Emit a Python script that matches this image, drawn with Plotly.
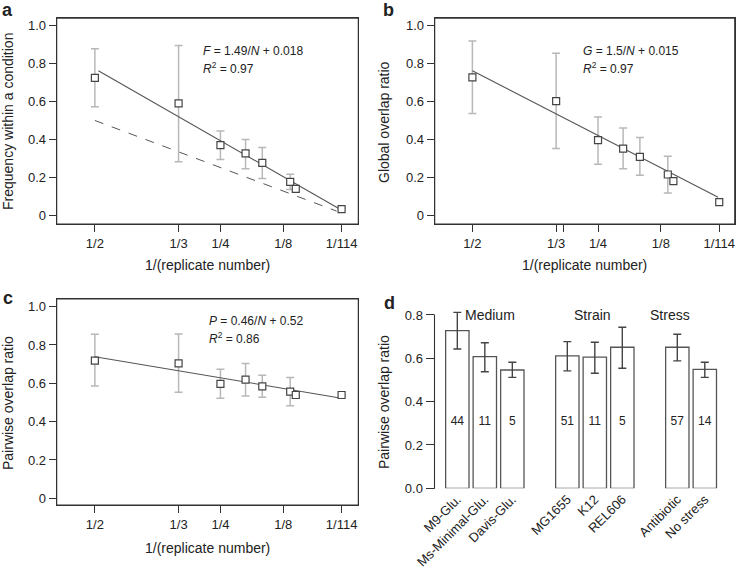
import plotly.graph_objects as go

W, H = 737, 573
FONT = "Liberation Sans, Arial, sans-serif"
TXT = "#222222"
LINE = "#333333"

# ---------------- data ----------------
replicates = [2, 3, 4, 5, 6, 9, 10, 114]
xtick_labels = ["1/2", "1/3", "1/4", "1/8", "1/114"]
xtick_N = [2, 3, 4, 8, 114]
ytick_vals = [0, 0.2, 0.4, 0.6, 0.8, 1.0]
ytick_text = ["0", "0.2", "0.4", "0.6", "0.8", "1.0"]

freq_mean = [0.725, 0.59, 0.37, 0.326, 0.276, 0.176, 0.139, 0.032]
freq_hi = [0.878, 0.895, 0.445, 0.400, 0.357, 0.216, None, None]
freq_lo = [0.572, 0.282, 0.294, 0.246, 0.194, 0.136, None, None]
freq_fit_x = [0.493, 0.0153]
freq_fit_y = [0.762, 0.037]
freq_rand_x = [0.5, 0.0186]
freq_rand_y = [0.50, 0.022]

glob_mean = [0.727, 0.602, 0.396, 0.352, 0.308, 0.215, 0.180, 0.069]
glob_hi = [0.919, 0.854, 0.519, 0.461, 0.410, 0.312, None, None]
glob_lo = [0.537, 0.352, 0.269, 0.246, 0.211, 0.118, None, None]
glob_fit_x = [0.5, 0.011]
glob_fit_y = [0.762, 0.095]

pair_mean = [0.718, 0.704, 0.597, 0.619, 0.584, 0.557, 0.539, 0.539]
pair_hi = [0.856, 0.857, 0.673, 0.704, 0.642, 0.631, None, None]
pair_lo = [0.586, 0.553, 0.522, 0.534, 0.527, 0.483, None, None]
pair_fit_x = [0.5, 0.015]
pair_fit_y = [0.739, 0.525]

bar_labels = ["M9-Glu.", "Ms-Minimal-Glu.", "Davis-Glu.", "MG1655", "K12", "REL606", "Antibiotic", "No stress"]
bar_pos = [0, 1, 2, 4, 5, 6, 8, 9]
bar_vals = [0.728, 0.608, 0.546, 0.611, 0.605, 0.651, 0.651, 0.549]
bar_hi = [0.812, 0.672, 0.582, 0.677, 0.674, 0.743, 0.711, 0.582]
bar_lo = [0.643, 0.538, 0.512, 0.542, 0.531, 0.554, 0.588, 0.512]
bar_counts = ["44", "11", "5", "51", "11", "5", "57", "14"]
group_names = ["Medium", "Strain", "Stress"]
group_x = [1.2, 4.9, 7.75]

XR_A = [0.576, -0.0245]
XR_B = [0.575, -0.022]
YR_TOP = [-0.046, 1.039]
YR_C = [-0.035, 1.04]
XR_D = [-0.83, 9.6]
YR_D = [0, 0.9]
D_AXIS_TOP = 0.8

# panel boxes in pixels: (left, right, top, bottom)
BOX_A = (56.7, 358.3, 18.3, 224.0)
BOX_B = (434.7, 734.7, 18.3, 224.0)
BOX_C = (56.7, 358.3, 299.0, 505.0)
BOX_D = (434.5, 721.3, 293.3, 488.3)


def dom_x(box):
    return [box[0] / W, box[1] / W]


def dom_y(box):
    return [1 - box[3] / H, 1 - box[2] / H]


fig = go.Figure()
xs = [1 / n for n in replicates]


def scatter_panel(k, mean, hi, lo, fit_x, fit_y):
    xa, ya = ("x" if k == 1 else f"x{k}"), ("y" if k == 1 else f"y{k}")
    idx = [i for i in range(len(mean)) if hi[i] is not None]
    fig.add_trace(go.Scatter(
        x=[xs[i] for i in idx], y=[mean[i] for i in idx], mode="markers",
        marker=dict(size=1, color="rgba(0,0,0,0)"),
        error_y=dict(type="data", symmetric=False,
                     array=[hi[i] - mean[i] for i in idx],
                     arrayminus=[mean[i] - lo[i] for i in idx],
                     color="#b8b8b8", thickness=1.5, width=4),
        xaxis=xa, yaxis=ya, showlegend=False, hoverinfo="skip"))
    fig.add_trace(go.Scatter(x=fit_x, y=fit_y, mode="lines",
                             line=dict(color="#555555", width=1.1),
                             xaxis=xa, yaxis=ya, showlegend=False))
    fig.add_trace(go.Scatter(x=xs, y=mean, mode="markers",
                             marker=dict(symbol="square", size=7, color="white",
                                         line=dict(color="#444444", width=1.2)),
                             xaxis=xa, yaxis=ya, showlegend=False))


fig.add_trace(go.Scatter(x=freq_rand_x, y=freq_rand_y, mode="lines",
                         line=dict(color="#555555", width=1, dash="dash"),
                         xaxis="x", yaxis="y", showlegend=False))
scatter_panel(1, freq_mean, freq_hi, freq_lo, freq_fit_x, freq_fit_y)
scatter_panel(2, glob_mean, glob_hi, glob_lo, glob_fit_x, glob_fit_y)
scatter_panel(3, pair_mean, pair_hi, pair_lo, pair_fit_x, pair_fit_y)

fig.add_trace(go.Bar(
    x=bar_pos, y=bar_vals, width=0.85,
    marker=dict(color="white", line=dict(color="#555555", width=1.3)),
    error_y=dict(type="data", symmetric=False,
                 array=[h - v for h, v in zip(bar_hi, bar_vals)],
                 arrayminus=[v - l for v, l in zip(bar_vals, bar_lo)],
                 color="#444444", thickness=1.4, width=4),
    xaxis="x4", yaxis="y4", showlegend=False))
fig.add_trace(go.Scatter(
    x=bar_pos, y=[0.305] * len(bar_pos), mode="text", text=bar_counts,
    textfont=dict(size=12, color=TXT, family=FONT),
    xaxis="x4", yaxis="y4", showlegend=False, hoverinfo="skip"))

tick_common = dict(ticks="outside", ticklen=7, tickwidth=1, tickcolor=LINE,
                   showline=True, mirror=True, linecolor=LINE, linewidth=1,
                   showgrid=False, zeroline=False, automargin=False,
                   tickfont=dict(size=13, color=TXT, family=FONT))

xt_vals = [1 / n for n in xtick_N]
xa_ticks = dict(tickmode="array", tickvals=xt_vals, ticktext=xtick_labels)
xb_ticks = dict(tickmode="array", tickvals=xt_vals + [0.319], ticktext=xtick_labels + [" "])
ya_ticks = dict(tickmode="array", tickvals=ytick_vals, ticktext=ytick_text)

fig.update_layout(
    width=W, height=H, autosize=False, margin=dict(l=0, r=0, t=0, b=0, pad=0),
    paper_bgcolor="white", plot_bgcolor="white",
    showlegend=False,
    font=dict(family=FONT, color=TXT),
    xaxis=dict(domain=dom_x(BOX_A), range=XR_A, anchor="y", **xa_ticks, **tick_common),
    yaxis=dict(domain=dom_y(BOX_A), range=YR_TOP, anchor="x", **ya_ticks, **tick_common),
    xaxis2=dict(domain=dom_x(BOX_B), range=XR_B, anchor="y2", **xb_ticks, **tick_common),
    yaxis2=dict(domain=dom_y(BOX_B), range=YR_TOP, anchor="x2", **ya_ticks, **tick_common),
    xaxis3=dict(domain=dom_x(BOX_C), range=XR_A, anchor="y3", **xa_ticks, **tick_common),
    yaxis3=dict(domain=dom_y(BOX_C), range=YR_C, anchor="x3", **ya_ticks, **tick_common),
    xaxis4=dict(domain=dom_x(BOX_D), range=XR_D, anchor="y4", automargin=False,
                tickmode="array", tickvals=bar_pos, ticktext=bar_labels, tickangle=-45,
                ticks="", showline=False, showgrid=False, zeroline=False,
                tickfont=dict(size=13, color=TXT, family=FONT)),
    yaxis4=dict(domain=dom_y(BOX_D), range=YR_D, anchor="x4", automargin=False,
                tickmode="array", tickvals=[0, 0.2, 0.4, 0.6, 0.8],
                ticktext=["0.0", "0.2", "0.4", "0.6", "0.8"],
                ticks="outside", ticklen=8, tickwidth=1, tickcolor=LINE,
                showline=False, showgrid=False, zeroline=False,
                tickfont=dict(size=13, color=TXT, family=FONT)),
)

# frames drawn as thin filled bands (fill, not stroke), in paper coordinates
T = 1.1  # band thickness, px


def band(x0, x1, y0, y1):
    fig.add_shape(type="rect", xref="paper", yref="paper",
                  x0=x0 / W, x1=x1 / W, y0=1 - y1 / H, y1=1 - y0 / H,
                  fillcolor=LINE, line=dict(width=0), layer="above")


for (l, r, t, b) in [BOX_A, BOX_B, BOX_C]:
    band(l - T / 2, r + T / 2, t - T / 2, t + T / 2)
    band(l - T / 2, r + T / 2, b - T / 2, b + T / 2)
    band(l - T / 2, l + T / 2, t - T / 2, b + T / 2)
    band(r - T / 2, r + T / 2, t - T / 2, b + T / 2)

# panel d y-axis line from 0 to 0.8
d_top_px = BOX_D[3] - (D_AXIS_TOP - YR_D[0]) / (YR_D[1] - YR_D[0]) * (BOX_D[3] - BOX_D[2])
band(BOX_D[0] - T / 2, BOX_D[0] + T / 2, d_top_px - T / 2, BOX_D[3] + T / 2)

ann = []


def A(x, y, text, size=14, xanchor="center", yanchor="middle", angle=0):
    ann.append(dict(x=x / W, y=1 - y / H, xref="paper", yref="paper", text=text,
                    showarrow=False, xanchor=xanchor, yanchor=yanchor, textangle=angle,
                    font=dict(size=size, color=TXT, family=FONT)))


A(8, 10, "<b>a</b>", size=18)
A(388, 10, "<b>b</b>", size=18)
A(8, 298, "<b>c</b>", size=18)
A(389, 303, "<b>d</b>", size=18)

A(207.5, 265, "1/(replicate number)")
A(584.7, 265, "1/(replicate number)")
A(207.5, 548, "1/(replicate number)")
A(8, 122, "Frequency within a condition", angle=-90)
A(384, 122, "Global overlap ratio", angle=-90)
A(8, 403, "Pairwise overlap ratio", angle=-90)
A(384, 402, "Pairwise overlap ratio", angle=-90)

A(201.5, 50.7, "<i>F</i> = 1.49/<i>N</i> + 0.018", size=12, xanchor="left")
A(201.5, 67.7, "<i>R</i><sup>2</sup> = 0.97", size=12, xanchor="left")
A(581.3, 50.7, "<i>G</i> = 1.5/<i>N</i> + 0.015", size=12, xanchor="left")
A(581.3, 67.7, "<i>R</i><sup>2</sup> = 0.97", size=12, xanchor="left")
A(206.5, 321, "<i>P</i> = 0.46/<i>N</i> + 0.52", size=12, xanchor="left")
A(206.5, 338.3, "<i>R</i><sup>2</sup> = 0.86", size=12, xanchor="left")

layout_ann = list(ann)
for name, gx in zip(group_names, group_x):
    layout_ann.append(dict(x=gx, y=0.8, xref="x4", yref="y4", text=name, showarrow=False,
                           xanchor="center", yanchor="middle",
                           font=dict(size=14, color=TXT, family=FONT)))
fig.update_layout(annotations=layout_ann)

fig.write_html("out.html", config={"responsive": False, "displayModeBar": False},
               post_script="document.body.style.margin='0';document.body.style.overflow='hidden';")
